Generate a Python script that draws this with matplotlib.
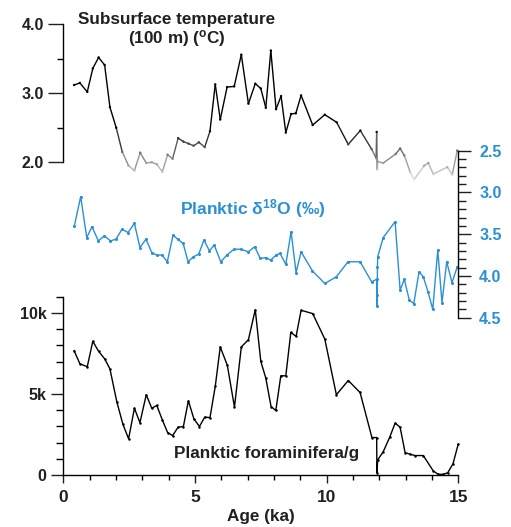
import matplotlib
matplotlib.use("Agg")
import matplotlib.pyplot as plt
import numpy as np
from matplotlib.collections import LineCollection
from matplotlib.colors import LinearSegmentedColormap, Normalize
from matplotlib.ticker import MultipleLocator, FuncFormatter

plt.rcParams["font.family"] = ["Liberation Sans", "DejaVu Sans"]
plt.rcParams["font.weight"] = "bold"
plt.rcParams["mathtext.fontset"] = "custom"
plt.rcParams["mathtext.rm"] = "Liberation Sans:bold"
plt.rcParams["mathtext.bf"] = "Liberation Sans:bold"
plt.rcParams["mathtext.it"] = "Liberation Sans:bold"

# subsurface temperature (100 m), degC
temp_age = [0.41, 0.63, 0.91, 1.12, 1.34, 1.57, 1.77, 2.01, 2.24, 2.48, 2.70, 2.92,
            3.15, 3.36, 3.56, 3.76, 3.96, 4.15, 4.36, 4.56, 4.76, 4.95, 5.15, 5.37,
            5.57, 5.77, 5.96, 6.22, 6.49, 6.76, 7.03, 7.29, 7.50, 7.69, 7.88, 8.08,
            8.27, 8.45, 8.65, 8.83, 9.03, 9.47, 9.93, 10.38, 10.82, 11.28, 11.71,
            11.88, 11.90, 11.92, 11.94, 12.15, 12.62, 12.79, 12.95, 13.17, 13.32,
            13.70, 13.86, 14.05, 14.58, 14.77, 14.96]
temp_val = [3.12, 3.15, 3.02, 3.36, 3.52, 3.41, 2.80, 2.50, 2.15, 1.95, 1.88, 2.14,
            1.99, 2.00, 1.97, 1.86, 2.11, 2.05, 2.35, 2.30, 2.27, 2.24, 2.29, 2.22,
            2.45, 3.13, 2.62, 3.09, 3.10, 3.56, 2.85, 3.14, 3.07, 2.79, 3.62, 2.77,
            2.96, 2.43, 2.70, 2.71, 2.97, 2.54, 2.69, 2.58, 2.26, 2.46, 2.19,
            2.06, 2.44, 1.90, 2.01, 1.99, 2.12, 2.20, 2.10, 1.86, 1.75,
            1.95, 1.99, 1.83, 1.93, 1.82, 2.17]

# planktic d18O (permil)
d18o_age = [0.42, 0.66, 0.89, 1.09, 1.33, 1.56, 1.79, 2.00, 2.23, 2.46, 2.70, 2.91,
            3.14, 3.36, 3.55, 3.75, 3.95, 4.17, 4.34, 4.55, 4.74, 4.94, 5.14, 5.34,
            5.55, 5.73, 5.98, 6.21, 6.48, 6.74, 7.03, 7.27, 7.48, 7.70, 7.88, 8.08,
            8.23, 8.45, 8.65, 8.84, 9.03, 9.46, 9.93, 10.37, 10.81, 11.27, 11.71,
            11.90, 11.91, 11.92, 11.93, 11.94, 12.15, 12.60, 12.79, 12.95, 13.14,
            13.31, 13.51, 13.67, 13.85, 14.03, 14.22, 14.38, 14.56, 14.76, 14.96]
d18o_val = [3.40, 3.05, 3.54, 3.41, 3.58, 3.52, 3.58, 3.56, 3.44, 3.48, 3.37, 3.66,
            3.56, 3.72, 3.75, 3.75, 3.83, 3.51, 3.56, 3.61, 3.83, 3.77, 3.74, 3.57,
            3.70, 3.63, 3.83, 3.75, 3.68, 3.68, 3.71, 3.65, 3.79, 3.78, 3.81, 3.75,
            3.73, 3.86, 3.47, 3.96, 3.71, 3.94, 4.09, 4.01, 3.83, 3.83, 4.07,
            4.04, 4.36, 4.23, 3.89, 3.77, 3.54, 3.35, 4.17, 4.04, 4.29,
            4.33, 3.95, 4.01, 4.19, 4.40, 3.69, 4.32, 3.83, 4.08, 3.89]

# planktic foraminifera per gram
foram_age = [0.41, 0.63, 0.91, 1.12, 1.34, 1.57, 1.77, 2.03, 2.26, 2.48, 2.70, 2.91,
             3.15, 3.36, 3.55, 3.76, 3.96, 4.15, 4.36, 4.56, 4.75, 4.96, 5.17, 5.37,
             5.57, 5.77, 5.96, 6.23, 6.50, 6.76, 7.03, 7.29, 7.50, 7.69, 7.89, 8.07,
             8.26, 8.45, 8.64, 8.84, 9.03, 9.47, 9.93, 10.37, 10.82, 11.27, 11.72,
             11.90, 11.91, 11.94, 12.15, 12.40, 12.60, 12.79, 12.98, 13.17, 13.36,
             13.67, 14.05, 14.24, 14.43, 14.60, 14.80, 15.00]
foram_val = [7670, 6860, 6680, 8250, 7630, 7170, 6550, 4530, 3150, 2230, 4120, 3230,
             4950, 4120, 4290, 3400, 2620, 2430, 2950, 2990, 4580, 3460, 2990, 3570,
             3540, 5460, 7900, 6760, 4190, 7900, 8350, 10200, 7010, 5980, 4220, 3980,
             6120, 6120, 8800, 8550, 10160, 9960, 8390, 4950, 5830, 5090, 2310,
             2310, 150, 930, 1440, 2350, 3200, 2950, 1380, 1280, 1200,
             1200, 250, 40, 40, 140, 700, 1920]

W, H = 511, 527
x_left, x_right = 63.3, 458.3
blue = "#2a90d6"
dark = "#231f20"
tick_fs = 11.5


def box(top_px, bottom_px):
    return [x_left / W, 1 - bottom_px / H, (x_right - x_left) / W, (bottom_px - top_px) / H]


fig = plt.figure(figsize=(W / 100, H / 100), dpi=100)

# ---- top panel: temperature
ax_t = fig.add_axes(box(24.3, 162.3))
ax_t.patch.set_alpha(0)
ax_t.set_xlim(0, 15)
ax_t.set_ylim(2.0, 4.0)
for s in ["top", "right", "bottom"]:
    ax_t.spines[s].set_visible(False)
ax_t.spines["left"].set_linewidth(1.0)
ax_t.set_xticks([])
ax_t.yaxis.set_major_locator(MultipleLocator(1.0))
ax_t.yaxis.set_minor_locator(MultipleLocator(0.5))
ax_t.yaxis.set_major_formatter(FuncFormatter(lambda v, p: f"{v:.1f}"))
ax_t.tick_params(axis="y", which="major", length=11, width=1.0, labelsize=tick_fs,
                 pad=3, colors=dark)
ax_t.tick_params(axis="y", which="minor", length=4.5, width=1.0)

cmap = LinearSegmentedColormap.from_list("tgrey", ["#e8e8e8", "#000000"])
norm = Normalize(1.75, 2.5)
tx = np.array(temp_age)
ty = np.array(temp_val)
pts = np.column_stack([tx, ty]).reshape(-1, 1, 2)
segs = np.concatenate([pts[:-1], pts[1:]], axis=1)
seg_col = cmap(norm((ty[:-1] + ty[1:]) / 2))
lc = LineCollection(segs, colors=seg_col, linewidths=1.0, clip_on=False)
ax_t.add_collection(lc)
ax_t.scatter(tx, ty, s=3, c=cmap(norm(ty)), linewidths=0, clip_on=False, zorder=3)
ax_t.text(0.287, 0.955, "Subsurface temperature\n(100 m) ($^{o}$C)", transform=ax_t.transAxes,
          ha="center", va="center", fontsize=12.3, color=dark, linespacing=1.1,
          multialignment="center")

# ---- middle panel: d18O
ax_o = fig.add_axes(box(150.7, 317.7))
ax_o.patch.set_alpha(0)
ax_o.set_xlim(0, 15)
ax_o.set_ylim(4.5, 2.5)
for s in ["top", "left", "bottom"]:
    ax_o.spines[s].set_visible(False)
ax_o.spines["right"].set_linewidth(1.0)
ax_o.set_xticks([])
ax_o.yaxis.tick_right()
ax_o.yaxis.set_major_locator(MultipleLocator(0.5))
ax_o.yaxis.set_minor_locator(MultipleLocator(0.1))
ax_o.yaxis.set_major_formatter(FuncFormatter(lambda v, p: f"{v:.1f}"))
ax_o.tick_params(axis="y", which="major", length=9, width=1.0, labelsize=tick_fs,
                 pad=6, labelcolor=blue, color=dark)
ax_o.tick_params(axis="y", which="minor", length=5.5, width=1.0, color=dark)
ax_o.plot(d18o_age, d18o_val, color=blue, linewidth=1.0, marker="o", markersize=1.2,
          clip_on=False)
ax_o.text(0.481, 0.655, r"Planktic δ$^{18}$O (‰)", transform=ax_o.transAxes,
          ha="center", va="center", fontsize=12.6, color=blue)

# ---- bottom panel: foraminifera
ax_f = fig.add_axes(box(296.7, 475.0))
ax_f.patch.set_alpha(0)
ax_f.set_xlim(0, 15)
ax_f.set_ylim(0, 11000)
for s in ["top", "right"]:
    ax_f.spines[s].set_visible(False)
ax_f.spines["left"].set_linewidth(1.0)
ax_f.spines["bottom"].set_linewidth(1.0)
ax_f.yaxis.set_major_locator(MultipleLocator(5000))
ax_f.yaxis.set_minor_locator(MultipleLocator(1000))
ax_f.yaxis.set_major_formatter(FuncFormatter(lambda v, p: "0" if v == 0 else f"{v / 1000:g}k"))
ax_f.xaxis.set_major_locator(MultipleLocator(5))
ax_f.xaxis.set_minor_locator(MultipleLocator(1))
ax_f.tick_params(axis="y", which="major", length=9, width=1.0, labelsize=tick_fs, pad=3,
                 colors=dark)
ax_f.tick_params(axis="y", which="minor", length=5, width=1.0)
ax_f.tick_params(axis="x", which="major", length=6, width=1.0, labelsize=12.5, pad=5,
                 colors=dark)
ax_f.tick_params(axis="x", which="minor", length=3.5, width=1.0)
ax_f.plot(foram_age, foram_val, color="black", linewidth=1.0, marker="o", markersize=0.8,
          clip_on=False)
ax_f.text(0.514, 0.123, "Planktic foraminifera/g", transform=ax_f.transAxes,
          ha="center", va="center", fontsize=12.3, color=dark)
ax_f.set_xlabel("Age (ka)", fontsize=12.3, fontweight="bold", color=dark, labelpad=3)

fig.savefig("out.png", dpi=100)
